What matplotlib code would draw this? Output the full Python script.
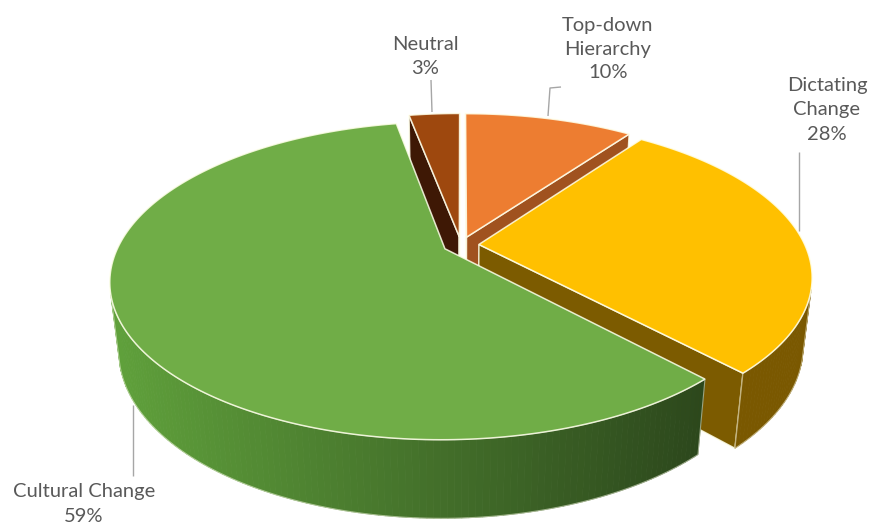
import numpy as np
import matplotlib
matplotlib.use("Agg")
import matplotlib.pyplot as plt
from matplotlib.patches import Polygon
from matplotlib.colors import to_rgb

# ---------------- data ----------------
categories = ["Top-down\nHierarchy", "Dictating\nChange", "Cultural Change", "Neutral"]
values = [10, 28, 59, 3]

# ---------------- style / layout ----------------
top_colors = ["#ED7D31", "#FFC000", "#70AD47", "#9E480E"]
wall_colors = ["#9C4E1C", "#7A5800", "#4A7A2C", "#5A2808"]
face_colors = ["#A0521F", "#7C5B00", "#4A7A2C", "#3E1805"]
green_wall_light = "#5FA03B"
green_wall_dark = "#2C471C"

label_xy = [(608, 49), (827, 110), (84, 504), (425, 57)]
leaders = [
    [(548, 116), (550, 88), (561, 87)],
    [(799, 152), (799, 231)],
    [(133, 405), (133, 476)],
    [(431, 80), (432, 112)],
]

W, H = 873, 525
fig = plt.figure(figsize=(W / 100, H / 100), dpi=100)
ax = fig.add_axes([0, 0, 1, 1])
ax.set_xlim(0, W)
ax.set_ylim(H, 0)
ax.axis("off")

# projection parameters
S = 326.0
alpha = np.radians(27.6)
sa, ca = np.sin(alpha), np.cos(alpha)
D = 4.43
cx, cy = 461.0, 245.0
hgt = 0.24
expl = 0.055
cam = np.array([0.0, -D * ca, D * sa])


def proj(x, y, z):
    v = y * sa + z * ca
    w = y * ca - z * sa
    f = D / (D + w)
    return cx + S * x * f, cy - S * v * f


def mix(c1, c2, t):
    a, b = np.array(to_rgb(c1)), np.array(to_rgb(c2))
    return tuple(a + (b - a) * np.clip(t, 0, 1))


total = float(sum(values))
angles = np.cumsum([0] + values) / total * 2 * np.pi

# draw order: back slices first
order = [3, 0, 1, 2]
edge_kw = dict(edgecolor=(1, 1, 0.92, 0.85), linewidth=1.1)

for i in order:
    t0, t1 = angles[i], angles[i + 1]
    tm = 0.5 * (t0 + t1)
    ox, oy = expl * np.sin(tm), expl * np.cos(tm)
    ts = np.linspace(t0, t1, max(8, int((t1 - t0) / np.pi * 180)))

    # radial faces
    for t, nvec in ((t0, (-np.cos(t0), np.sin(t0))), (t1, (np.cos(t1), -np.sin(t1)))):
        p = np.array([ox + 0.5 * np.sin(t), oy + 0.5 * np.cos(t), -hgt / 2])
        if np.dot(np.array([nvec[0], nvec[1], 0]), cam - p) > 0:
            pts = [proj(ox, oy, 0), proj(ox + np.sin(t), oy + np.cos(t), 0),
                   proj(ox + np.sin(t), oy + np.cos(t), -hgt), proj(ox, oy, -hgt)]
            ax.add_patch(Polygon(pts, closed=True, facecolor=face_colors[i], **edge_kw))

    # outer wall
    vis = []
    for t in ts:
        p = np.array([ox + np.sin(t), oy + np.cos(t), -hgt / 2])
        vis.append(np.dot(np.array([np.sin(t), np.cos(t), 0]), cam - p) > 0)
    vis = np.array(vis)
    if vis.any():
        idx = np.where(vis)[0]
        segs = ts[idx[0]: idx[-1] + 1]
        for k in range(len(segs) - 1):
            ta, tb = segs[k], segs[k + 1]
            pa = proj(ox + np.sin(ta), oy + np.cos(ta), 0)
            pb = proj(ox + np.sin(tb), oy + np.cos(tb), 0)
            qa = proj(ox + np.sin(ta), oy + np.cos(ta), -hgt)
            qb = proj(ox + np.sin(tb), oy + np.cos(tb), -hgt)
            if i == 2:
                col = mix(green_wall_light, green_wall_dark, (pa[0] - 115) / (710 - 115))
            else:
                col = wall_colors[i]
            ax.add_patch(Polygon([pa, pb, qb, qa], closed=True, facecolor=col,
                                 edgecolor=col, linewidth=0.6))
        top_pts = [proj(ox + np.sin(t), oy + np.cos(t), 0) for t in segs]
        bot_pts = [proj(ox + np.sin(t), oy + np.cos(t), -hgt) for t in segs]
        ax.add_patch(Polygon(top_pts + bot_pts[::-1], closed=True, facecolor="none",
                             edgecolor=(1, 1, 0.92, 0.5), linewidth=0.8))

    # top face
    pts = [proj(ox, oy, 0)] + [proj(ox + np.sin(t), oy + np.cos(t), 0) for t in ts]
    ax.add_patch(Polygon(pts, closed=True, facecolor=top_colors[i], **edge_kw))

# leader lines
for ln in leaders:
    xs, ys = zip(*ln)
    ax.plot(xs, ys, color="#A6A6A6", linewidth=1.0, solid_capstyle="butt")

# labels
for i, (x, y) in enumerate(label_xy):
    pct = f"{values[i] / total * 100:.0f}%"
    ax.text(x, y, f"{categories[i]}\n{pct}", ha="center", va="center",
            fontsize=14.5, color="#595959", family="Lato", linespacing=1.5)

fig.savefig("out.png", dpi=100)
